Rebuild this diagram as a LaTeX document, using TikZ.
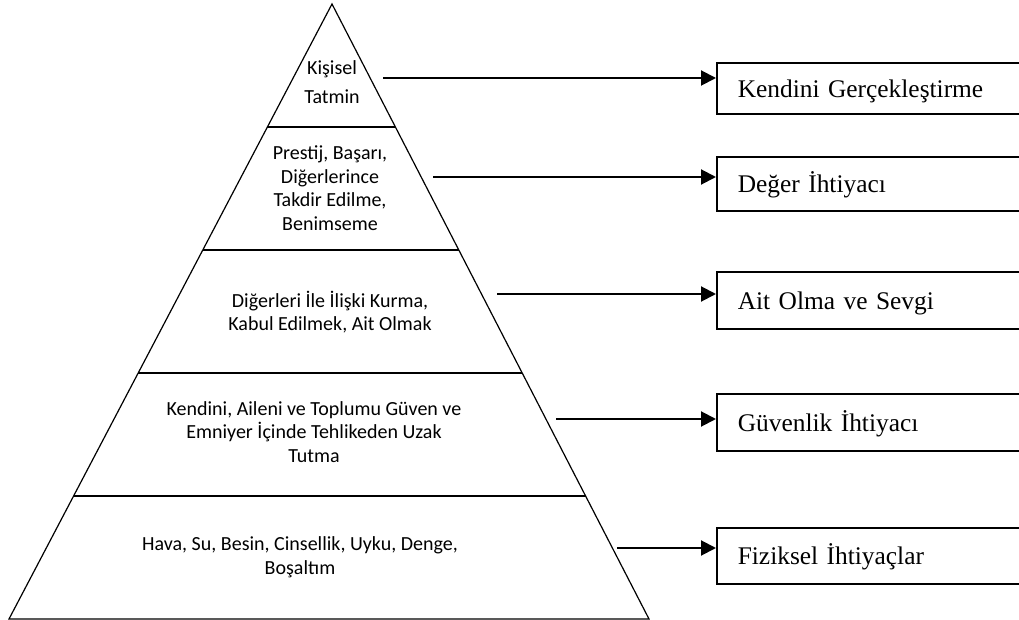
\documentclass[tikz,border=0pt]{standalone}
\usepackage{fontspec}
\setmainfont{Liberation Serif}
\newfontfamily\calibfont{Carlito}
\usetikzlibrary{calc,arrows.meta}

\tikzset{
  layertext/.style={align=center, font=\calibfont\fontsize{10}{11.8}\selectfont, inner sep=0pt},
  needbox/.style={draw, line width=0.8pt, anchor=north west, minimum width=155pt, text width=134pt, inner xsep=10.5pt, align=left, text height=8.8pt, text depth=0pt, font=\fontsize{12.7}{14}\selectfont},
  needarrow/.style={line width=1pt, -{Triangle[length=7.5pt,width=7.5pt]}}
}

\begin{document}
\begin{tikzpicture}[x=0.5pt, y=-0.5pt]
\useasboundingbox (0,0) rectangle (1019,620);
% pyramid and its five layers
\coordinate (T) at (332,4); \coordinate (L) at (9,619); \coordinate (R) at (649,619);
\draw[line width=0.6pt] (T)--(R)--(L)--cycle;
\foreach \k in {1,...,4} \draw[line width=0.6pt] ($(T)!\k/5!(L)$)--($(T)!\k/5!(R)$);
\node[layertext] (n1) at (332,82) {Kişisel\\[3pt]Tatmin};
\node[layertext] (n2) at (330,188) {Prestij, Başarı,\\Diğerlerince\\Takdir Edilme,\\Benimseme};
\node[layertext] (n3) at (330,312) {Diğerleri İle İlişki Kurma,\\Kabul Edilmek, Ait Olmak};
\node[layertext] (n4) at (314,432) {Kendini, Aileni ve Toplumu Güven ve\\Emniyer İçinde Tehlikeden Uzak\\Tutma};
\node[layertext] (n5) at (300,557) {Hava, Su, Besin, Cinsellik, Uyku, Denge,\\Boşaltım};
% need boxes on the right
\node[needbox, minimum height=25.5pt] (b1) at (716,62) {Kendini Gerçekleştirme};
\node[needbox, minimum height=27pt] (b2) at (716,156) {Değer İhtiyacı};
\node[needbox, minimum height=28.5pt] (b3) at (716,271) {Ait Olma ve Sevgi};
\node[needbox, minimum height=28.5pt] (b4) at (716,393) {Güvenlik İhtiyacı};
\node[needbox, minimum height=28pt] (b5) at (716,527) {Fiziksel İhtiyaçlar};
% arrows from the layers
\coordinate (s1) at (383,78); \coordinate (s2) at (433,177); \coordinate (s3) at (497,294); \coordinate (s4) at (556,419); \coordinate (s5) at (617,548);
\draw[needarrow] (s1)--(s1 -| b1.west); \draw[needarrow] (s2)--(s2 -| b2.west); \draw[needarrow] (s3)--(s3 -| b3.west);
\draw[needarrow] (s4)--(s4 -| b4.west); \draw[needarrow] (s5)--(s5 -| b5.west);
\end{tikzpicture}
\end{document}
